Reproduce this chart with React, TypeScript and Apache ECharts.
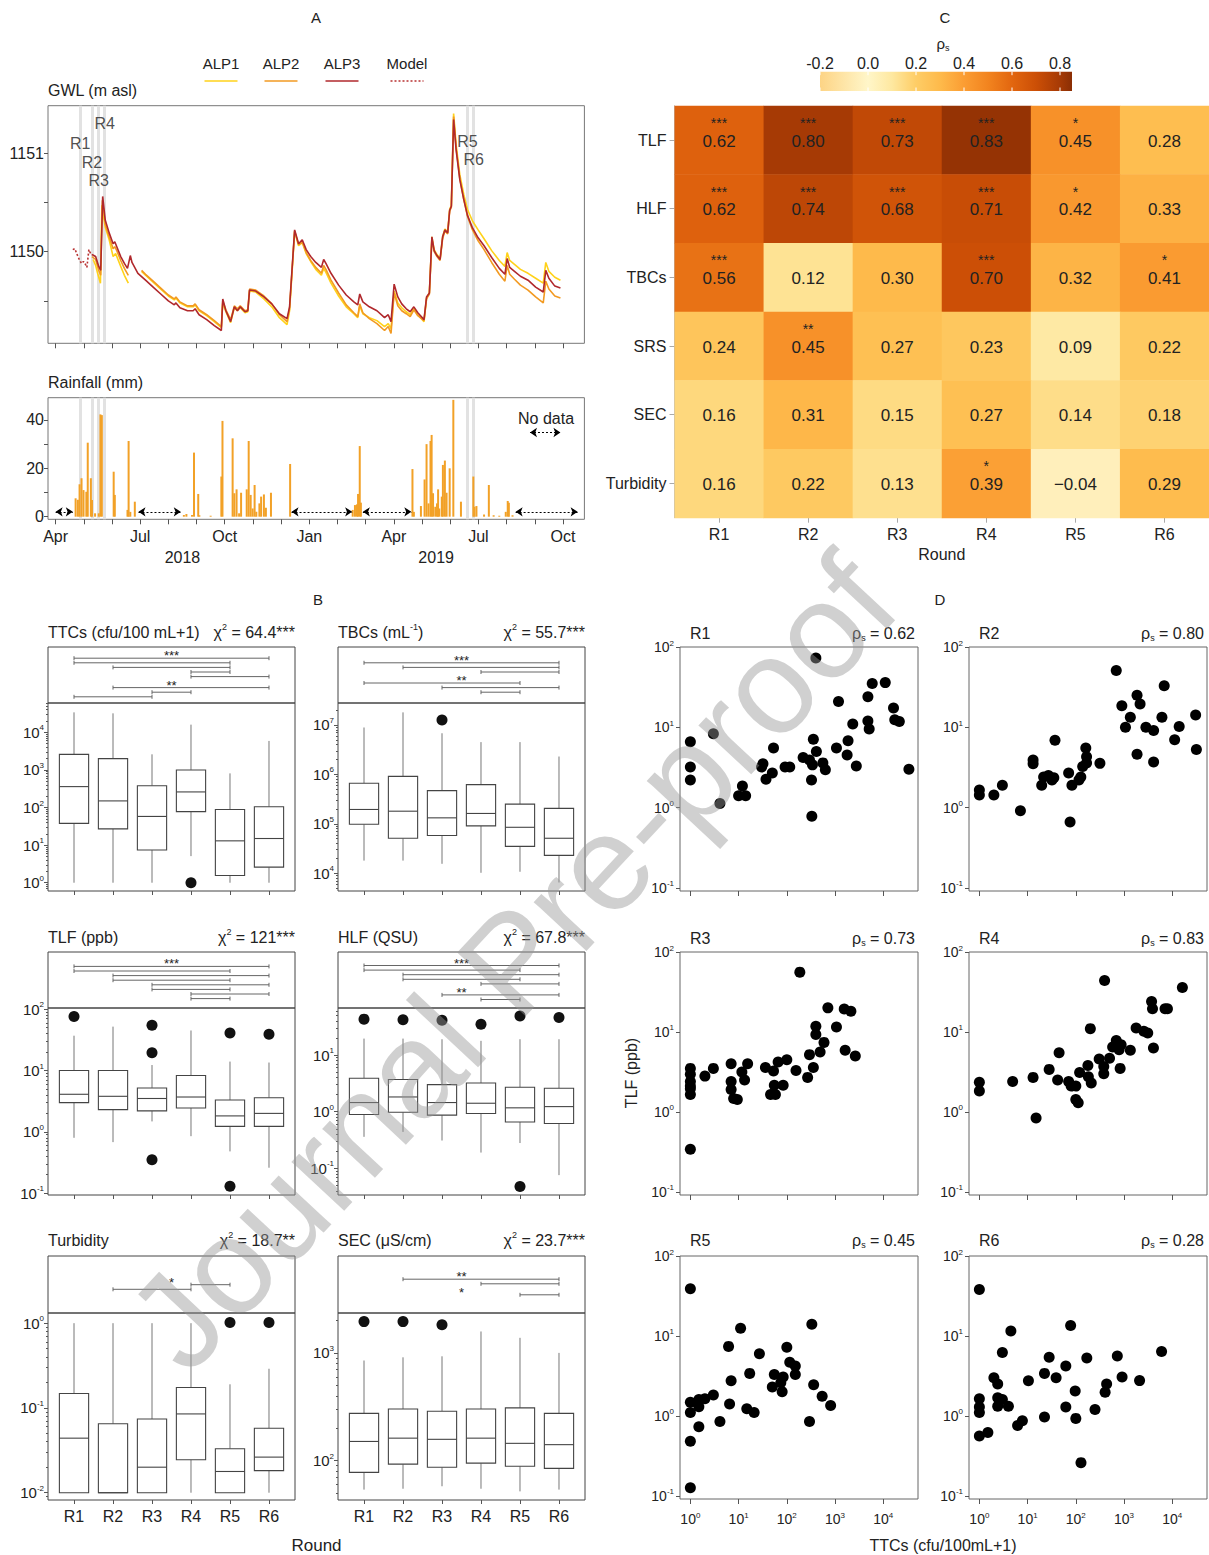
import React, { useEffect, useRef } from 'react';
import * as echarts from 'echarts';

const FONT = 'Liberation Sans';
const INK = '#222';

/* ================= Panel A : groundwater level and rainfall ================= */
// x = months since 1 April 2018
const monthTicks = [0, 1, 2, 3, 4, 5, 6, 7, 8, 9, 10, 11, 12, 13, 14, 15, 16, 17, 18];
const monthNames = ['Apr', 'May', 'Jun', 'Jul', 'Aug', 'Sep', 'Oct', 'Nov', 'Dec', 'Jan', 'Feb', 'Mar', 'Apr', 'May', 'Jun', 'Jul', 'Aug', 'Sep', 'Oct'];
const monthLabelTicks = [0, 3, 6, 9, 12, 15, 18];
const yearLabels: [number, string][] = [[4.5, '2018'], [13.5, '2019']];
const roundNames = ['R1', 'R2', 'R3', 'R4', 'R5', 'R6'];
const roundMonths = [0.87, 1.29, 1.53, 1.74, 14.61, 14.83];
const roundLabelLevels = [1151.1, 1150.9, 1150.72, 1151.3, 1151.12, 1150.93];
const gwlTicks = [1149.5, 1150, 1150.5, 1151];
const gwlLabels = [1150, 1151];
const rainTicks = [0, 10, 20, 30, 40];
const rainLabels = [0, 20, 40];

const alp3: (number | string)[][] = [
  [1.29, 1149.97], [1.42, 1149.95], [1.53, 1149.85], [1.6, 1149.81], [1.67, 1150.56], [1.76, 1150.32], [1.9, 1150.19],
  [2.04, 1150.08], [2.1, 1150.1], [2.17, 1150.05], [2.31, 1149.95], [2.44, 1149.88], [2.55, 1149.83], [2.65, 1149.96],
  [2.71, 1149.89], [2.92, 1149.78], [3.19, 1149.71], [3.46, 1149.64], [3.73, 1149.57], [4.0, 1149.5], [4.21, 1149.46],
  [4.27, 1149.48], [4.41, 1149.43], [4.68, 1149.4], [4.88, 1149.4], [4.95, 1149.42], [5.09, 1149.36], [5.36, 1149.31],
  [5.63, 1149.25], [5.88, 1149.2], [5.93, 1149.52], [6.04, 1149.4], [6.21, 1149.29], [6.34, 1149.44], [6.45, 1149.4],
  [6.55, 1149.44], [6.72, 1149.39], [6.82, 1149.4], [6.88, 1149.61], [7.1, 1149.6], [7.39, 1149.54], [7.67, 1149.47],
  [7.94, 1149.37], [8.21, 1149.32], [8.3, 1149.44], [8.48, 1150.22], [8.62, 1150.08], [8.75, 1150.12], [8.89, 1150.02],
  [9.05, 1149.95], [9.23, 1149.89], [9.43, 1149.84], [9.51, 1149.92], [9.59, 1149.88], [9.77, 1149.78], [10.04, 1149.66],
  [10.31, 1149.56], [10.58, 1149.49], [10.72, 1149.46], [10.79, 1149.57], [10.9, 1149.49], [11.13, 1149.44], [11.4, 1149.4],
  [11.67, 1149.33], [11.8, 1149.36], [11.9, 1149.29], [12.01, 1149.67], [12.14, 1149.54], [12.28, 1149.47], [12.44, 1149.42],
  [12.58, 1149.39], [12.71, 1149.44], [12.85, 1149.38], [13.07, 1149.31], [13.16, 1149.54], [13.26, 1149.58], [13.35, 1150.15],
  [13.43, 1150.01], [13.53, 1149.96], [13.64, 1149.92], [13.73, 1150.15], [13.81, 1150.22], [13.91, 1150.19], [13.98, 1150.42],
  [14.04, 1150.46], [14.12, 1151.34], [14.21, 1151.03], [14.34, 1150.73], [14.48, 1150.53], [14.61, 1150.37], [14.79, 1150.24],
  [14.99, 1150.14], [15.2, 1150.06], [15.47, 1149.94], [15.74, 1149.83], [15.94, 1149.77], [16.02, 1149.93], [16.11, 1149.84],
  [16.28, 1149.8], [16.49, 1149.75], [16.76, 1149.71], [17.03, 1149.64], [17.3, 1149.59], [17.39, 1149.81], [17.5, 1149.73],
  [17.71, 1149.65], [17.91, 1149.63],
];
const alp2: (number | string)[][] = [
  [1.29, 1149.95], [1.42, 1149.92], [1.53, 1149.81], [1.6, 1149.76], [1.66, 1150.52], [1.76, 1150.28], [1.9, 1150.15],
  [2.04, 1150.03], [2.1, 1150.05], [2.17, 1150.01], [2.31, 1149.91], [2.44, 1149.83], [2.58, 1149.76], [2.8, '-'],
  [3.05, 1149.81], [3.19, 1149.77], [3.46, 1149.7], [3.73, 1149.63], [4.0, 1149.56], [4.21, 1149.52], [4.27, 1149.54],
  [4.41, 1149.49], [4.68, 1149.45], [4.88, 1149.45], [4.95, 1149.47], [5.09, 1149.41], [5.36, 1149.36], [5.63, 1149.3],
  [5.88, 1149.24], [5.93, 1149.5], [6.04, 1149.41], [6.21, 1149.31], [6.34, 1149.45], [6.45, 1149.42], [6.55, 1149.45],
  [6.72, 1149.4], [6.82, 1149.41], [6.88, 1149.62], [7.1, 1149.61], [7.39, 1149.55], [7.67, 1149.47], [7.94, 1149.36],
  [8.21, 1149.29], [8.3, 1149.42], [8.48, 1150.21], [8.62, 1150.07], [8.75, 1150.1], [8.89, 1149.99], [9.05, 1149.91],
  [9.23, 1149.84], [9.43, 1149.78], [9.51, 1149.86], [9.59, 1149.82], [9.77, 1149.71], [10.04, 1149.58], [10.31, 1149.46],
  [10.58, 1149.38], [10.72, 1149.34], [10.79, 1149.47], [10.9, 1149.38], [11.13, 1149.32], [11.4, 1149.27], [11.67, 1149.2],
  [11.8, 1149.24], [11.9, 1149.17], [12.01, 1149.58], [12.14, 1149.45], [12.28, 1149.4], [12.44, 1149.37], [12.58, 1149.34],
  [12.71, 1149.41], [12.85, 1149.35], [13.07, 1149.3], [13.16, 1149.52], [13.26, 1149.57], [13.35, 1150.13], [13.43, 1150.0],
  [13.53, 1149.95], [13.64, 1149.91], [13.73, 1150.13], [13.81, 1150.21], [13.91, 1150.18], [13.98, 1150.41], [14.04, 1150.45],
  [14.12, 1151.37], [14.21, 1151.05], [14.34, 1150.74], [14.48, 1150.53], [14.61, 1150.36], [14.79, 1150.22], [14.99, 1150.11],
  [15.2, 1150.02], [15.47, 1149.89], [15.74, 1149.77], [15.94, 1149.7], [16.02, 1149.86], [16.11, 1149.77], [16.28, 1149.72],
  [16.49, 1149.66], [16.76, 1149.61], [17.03, 1149.54], [17.3, 1149.48], [17.39, 1149.7], [17.5, 1149.62], [17.71, 1149.55],
  [17.91, 1149.53],
];
const alp1: (number | string)[][] = [
  [1.33, 1149.92], [1.42, 1149.86], [1.49, 1149.78], [1.59, 1149.68], [1.64, 1150.47], [1.76, 1150.25], [1.9, 1150.12],
  [2.04, 1149.95], [2.13, 1149.98], [2.31, 1149.85], [2.44, 1149.76], [2.58, 1149.68], [2.8, '-'], [3.05, 1149.8],
  [3.19, 1149.76], [3.46, 1149.69], [3.73, 1149.62], [4.0, 1149.55], [4.21, 1149.51], [4.27, 1149.53], [4.41, 1149.48],
  [4.68, 1149.44], [4.88, 1149.44], [4.95, 1149.46], [5.09, 1149.4], [5.36, 1149.35], [5.63, 1149.29], [5.88, 1149.23],
  [5.93, 1149.48], [6.04, 1149.39], [6.21, 1149.28], [6.34, 1149.43], [6.45, 1149.4], [6.55, 1149.43], [6.72, 1149.38],
  [6.82, 1149.39], [6.88, 1149.6], [7.1, 1149.59], [7.39, 1149.52], [7.67, 1149.44], [7.94, 1149.33], [8.21, 1149.26],
  [8.3, 1149.4], [8.48, 1150.2], [8.62, 1150.06], [8.75, 1150.09], [8.89, 1149.98], [9.05, 1149.9], [9.23, 1149.82],
  [9.43, 1149.76], [9.51, 1149.83], [9.59, 1149.79], [9.77, 1149.68], [10.04, 1149.55], [10.31, 1149.44], [10.58, 1149.37],
  [10.72, 1149.33], [10.79, 1149.45], [10.9, 1149.37], [11.13, 1149.33], [11.4, 1149.3], [11.67, 1149.24], [11.8, 1149.27],
  [11.9, 1149.22], [12.01, 1149.6], [12.14, 1149.48], [12.28, 1149.43], [12.44, 1149.39], [12.58, 1149.36], [12.71, 1149.42],
  [12.85, 1149.36], [13.07, 1149.29], [13.16, 1149.53], [13.26, 1149.58], [13.35, 1150.15], [13.43, 1150.02], [13.53, 1149.97],
  [13.64, 1149.93], [13.73, 1150.15], [13.81, 1150.23], [13.91, 1150.2], [13.98, 1150.43], [14.04, 1150.47], [14.12, 1151.4],
  [14.21, 1151.08], [14.34, 1150.78], [14.48, 1150.58], [14.61, 1150.43], [14.79, 1150.31], [14.99, 1150.22], [15.2, 1150.13],
  [15.47, 1150.01], [15.74, 1149.91], [15.94, 1149.85], [16.02, 1149.99], [16.11, 1149.91], [16.28, 1149.87], [16.49, 1149.82],
  [16.76, 1149.78], [17.03, 1149.73], [17.3, 1149.68], [17.39, 1149.89], [17.5, 1149.8], [17.71, 1149.74], [17.91, 1149.71],
];
const modelGwl = [
  [0.61, 1150.02], [0.68, 1150.03], [0.75, 1149.98], [0.84, 1149.92], [0.92, 1149.88], [0.99, 1149.9],
  [1.04, 1149.88], [1.11, 1149.84], [1.18, 1150.02], [1.26, 1149.97], [1.29, 1149.97],
];
const rainfall = [
  [0.71, 7.6], [0.79, 7.0], [0.85, 13.4], [0.92, 15.9], [0.99, 11.0], [1.09, 10.3], [1.14, 30.6], [1.25, 15.9], [1.29, 6.9],
  [1.4, 1.4], [1.53, 1.4], [1.59, 42.3], [1.64, 42.0], [2.06, 18.6], [2.1, 9.0], [2.55, 2.8], [2.59, 31.3], [2.65, 2.0],
  [2.81, 6.2], [4.55, 0.7], [4.64, 1.1], [4.84, 0.7], [4.91, 26.5], [5.06, 9.4], [5.1, 0.6], [5.5, 0.4], [5.88, 16.6],
  [5.92, 39.6], [6.28, 32.4], [6.34, 9.7], [6.42, 11.3], [6.51, 1.4], [6.58, 9.9], [6.78, 11.3], [6.85, 31.3], [6.92, 9.0],
  [6.99, 3.4], [7.06, 13.1], [7.12, 2.0], [7.23, 5.5], [7.29, 8.3], [7.39, 9.2], [7.46, 3.7], [7.64, 9.9], [8.32, 21.8],
  [10.54, 2.8], [10.62, 4.8], [10.69, 5.1], [10.73, 9.4], [10.79, 29.2], [10.83, 5.8], [12.66, 19.7], [12.71, 2.0],
  [12.96, 4.4], [13.09, 15.4], [13.16, 30.0], [13.23, 5.5], [13.3, 31.3], [13.34, 33.8], [13.39, 9.7], [13.47, 4.1],
  [13.53, 5.5], [13.57, 11.3], [13.61, 3.4], [13.7, 8.3], [13.74, 21.4], [13.81, 23.2], [13.87, 9.9], [13.98, 20.0],
  [14.11, 48.3], [14.38, 6.2], [14.82, 16.6], [14.86, 4.1], [14.93, 4.4], [15.2, 0.9], [15.37, 13.1], [15.54, 0.6],
  [15.74, 0.4], [15.97, 2.0], [16.04, 6.5], [16.08, 5.8], [16.21, 0.6],
];
const noDataSpans = [[0, 0.61], [2.94, 4.44], [8.37, 10.52], [10.9, 12.62], [16.32, 18.52]];
const noDataKey = [16.83, 17.91];

/* ================= Panel C : correlation heat map ================= */
const hmRows = ['TLF', 'HLF', 'TBCs', 'SRS', 'SEC', 'Turbidity'];
const hmRho = [
  [0.62, 0.8, 0.73, 0.83, 0.45, 0.28],
  [0.62, 0.74, 0.68, 0.71, 0.42, 0.33],
  [0.56, 0.12, 0.3, 0.7, 0.32, 0.41],
  [0.24, 0.45, 0.27, 0.23, 0.09, 0.22],
  [0.16, 0.31, 0.15, 0.27, 0.14, 0.18],
  [0.16, 0.22, 0.13, 0.39, -0.04, 0.29],
];
const hmSig = [
  ['***', '***', '***', '***', '*', ''],
  ['***', '***', '***', '***', '*', ''],
  ['***', '', '', '***', '', '*'],
  ['', '**', '', '', '', ''],
  ['', '', '', '', '', ''],
  ['', '', '', '*', '', ''],
];
const cbMin = -0.2;
const cbMax = 0.85;
const cbTicks = [-0.2, 0, 0.2, 0.4, 0.6, 0.8];
const cbStops: [number, string][] = [
  [-0.2, '#FDD485'], [0.0, '#FFF6C9'], [0.1, '#FEE8A0'], [0.2, '#FECD66'], [0.3, '#FEBA4B'], [0.4, '#FB9D33'],
  [0.5, '#F2841F'], [0.6, '#E2660F'], [0.7, '#CC4F06'], [0.8, '#A63A05'], [0.85, '#8A2E04'],
];

/* ================= Panel B : box plots by round ================= */
// each: [min, Q1, median, Q3, max]
const ttcBox = [[1, 38, 360, 2600, 34000], [1, 27, 150, 2000, 32000], [1, 7.4, 58, 380, 2600], [5.1, 78, 260, 1000, 16000], [1, 1.55, 13, 89, 810], [1, 2.6, 15, 105, 5900]];
const ttcOut = [[4, 1]];
const tbcBox = [[18000, 98000, 195000, 660000, 8900000], [18000, 51000, 180000, 910000, 18000000], [15500, 58000, 132000, 470000, 6800000], [10200, 91000, 162000, 620000, 4500000], [10700, 35000, 85000, 250000, 4500000], [6500, 23000, 51000, 205000, 2300000]];
const tbcOut = [[3, 12600000]];
const tlfBox = [[0.8, 3.0, 4.1, 10, 37], [0.68, 2.3, 3.8, 10, 52], [1.48, 2.2, 3.5, 5.2, 12.3], [0.85, 2.45, 3.7, 8.3, 45], [0.48, 1.23, 1.82, 3.3, 14], [0.26, 1.23, 2.0, 3.6, 13.5]];
const tlfOut = [[1, 76], [3, 19.5], [3, 55], [3, 0.35], [5, 41], [5, 0.13], [6, 39]];
const hlfBox = [[0.36, 0.89, 1.45, 3.9, 19.5], [0.44, 0.98, 1.82, 3.7, 19.5], [0.31, 0.87, 1.45, 3.0, 19], [0.19, 0.93, 1.41, 3.2, 17.8], [0.28, 0.66, 1.17, 2.7, 19], [0.076, 0.62, 1.23, 2.6, 19]];
const hlfOut = [[1, 43], [2, 42], [3, 41], [4, 35], [5, 49], [5, 0.048], [6, 46]];
const turbBox = [[0.01, 0.01, 0.044, 0.148, 1.0], [0.01, 0.01, 0.01, 0.065, 1.0], [0.01, 0.01, 0.02, 0.074, 1.0], [0.01, 0.0245, 0.085, 0.174, 1.0], [0.01, 0.01, 0.0178, 0.033, 0.19], [0.01, 0.0182, 0.0263, 0.0575, 0.29]];
const turbOut = [[5, 1.02], [6, 1.02]];
const secBox = [[54, 78, 151, 275, 850], [55, 93, 162, 302, 910], [58, 87, 158, 288, 930], [55, 95, 162, 302, 1580], [52, 89, 145, 309, 1380], [54, 85, 141, 275, 1000]];
const secOut = [[1, 1950], [2, 1950], [3, 1820]];

const ttcSig = [{ stars: '***', pairs: [[1, 6], [1, 5], [2, 5], [4, 5], [4, 6]] }, { stars: '**', pairs: [[2, 6], [3, 4], [1, 3]] }];
const tbcSig = [{ stars: '***', pairs: [[1, 6], [2, 6], [4, 6]] }, { stars: '**', pairs: [[1, 5], [3, 6], [4, 5]] }];
const tlfSig = [{ stars: '***', pairs: [[1, 6], [1, 5], [2, 6], [2, 5], [3, 6], [3, 5], [4, 6], [4, 5]] }];
const hlfSig = [{ stars: '***', pairs: [[1, 6], [1, 5], [2, 6], [2, 5], [4, 6]] }, { stars: '**', pairs: [[3, 6], [4, 5]] }];
const turbSig = [{ stars: '*', pairs: [[4, 5], [2, 4]] }];
const secSig = [{ stars: '**', pairs: [[2, 6], [4, 6]] }, { stars: '*', pairs: [[5, 6]] }];

const boxPanels = [
  { title: '{t|TTCs (cfu/100 mL+1)}', chi: '64.4***', box: ttcBox, out: ttcOut, sig: ttcSig, range: [-0.22, 4.78] },
  { title: '{t|TBCs (mL}{u|-1}{t|)}', chi: '55.7***', box: tbcBox, out: tbcOut, sig: tbcSig, range: [3.64, 7.445] },
  { title: '{t|TLF (ppb)}', chi: '121***', box: tlfBox, out: tlfOut, sig: tlfSig, range: [-1.03, 2.02] },
  { title: '{t|HLF (QSU)}', chi: '67.8***', box: hlfBox, out: hlfOut, sig: hlfSig, range: [-1.47, 1.83] },
  { title: '{t|Turbidity}', chi: '18.7**', box: turbBox, out: turbOut, sig: turbSig, range: [-2.086, 0.12] },
  { title: '{t|SEC (μS/cm)}', chi: '23.7***', box: secBox, out: secOut, sig: secSig, range: [1.636, 3.37] },
];

/* ================= Panel D : TLF vs TTCs per round ================= */
const scR1 = [[1, 6.6], [1, 3.2], [1, 2.2], [3.0, 8.3], [4.1, 1.12], [10, 1.4], [12, 1.86], [14, 1.4], [30, 3.2], [32, 3.5], [37, 2.25], [50, 2.7], [53, 5.5], [92, 3.2], [115, 3.2], [218, 4.2], [295, 3.9], [325, 2.2], [340, 3.4], [355, 7.1], [330, 0.78], [400, 73], [410, 5.0], [560, 3.6], [630, 2.95], [1070, 5.5], [1180, 21], [1780, 4.5], [1860, 6.8], [2330, 11], [2760, 3.3], [4800, 24], [4800, 12], [5100, 9.5], [5900, 35], [11000, 36], [16300, 17.4], [17300, 12.4], [21500, 11.8], [34000, 3.0]];
const scR2 = [[1, 1.65], [1, 1.43], [2.0, 1.43], [3.0, 1.9], [7.1, 0.91], [13, 3.9], [13, 3.5], [19.6, 1.9], [21.5, 2.4], [27, 2.5], [32, 2.2], [35, 2.35], [37, 6.9], [71, 2.7], [76, 0.66], [83, 1.9], [116, 2.2], [127, 2.4], [139, 3.25], [161, 5.5], [167, 4.3], [167, 3.6], [316, 3.55], [690, 51], [900, 18.5], [1070, 10], [1350, 13.3], [1860, 25], [1860, 4.6], [2150, 19.5], [2840, 10], [4100, 9.1], [4100, 3.7], [6100, 13.3], [6800, 33], [11200, 7.0], [13900, 10.2], [30500, 14.2], [31600, 5.3]];
const scR3 = [[1, 3.5], [1, 2.95], [1, 2.4], [1, 2.1], [1, 1.95], [1, 1.65], [1, 0.34], [2.0, 2.8], [3.0, 3.5], [7.0, 4.0], [7.0, 2.4], [7.0, 1.9], [7.9, 1.47], [9.4, 1.43], [11.7, 3.15], [13.3, 2.5], [15.4, 4.0], [36, 3.6], [46, 1.65], [53, 3.25], [55, 2.15], [58, 1.65], [66, 4.2], [84, 2.15], [100, 4.5], [155, 3.3], [186, 56], [270, 2.7], [295, 5.2], [355, 3.6], [400, 11.8], [400, 9.3], [490, 5.6], [590, 7.4], [710, 20], [1070, 11.5], [1550, 19.4], [1620, 5.9], [2130, 18.2], [2630, 5.0]];
const scR4 = [[1, 2.35], [1, 1.82], [4.9, 2.4], [13, 2.7], [15, 0.84], [28, 3.4], [42, 2.5], [45, 5.5], [71, 2.4], [80, 2.1], [100, 2.1], [100, 1.43], [112, 1.3], [120, 3.1], [178, 3.8], [182, 2.75], [200, 11], [209, 2.3], [305, 4.6], [380, 3.7], [380, 3.0], [395, 44], [500, 4.7], [580, 6.5], [690, 7.8], [790, 6.0], [870, 6.9], [830, 3.5], [1350, 5.9], [1780, 11.2], [2570, 10.2], [3100, 9.7], [3720, 24], [3890, 19.5], [4070, 6.3], [7080, 19.5], [7940, 19.5], [16200, 36]];
const scR5 = [[1, 39], [1, 1.48], [1, 1.1], [1, 0.48], [1, 0.126], [1.5, 1.6], [1.5, 1.3], [1.5, 0.73], [2.0, 1.64], [3.0, 1.82], [4.1, 0.85], [6.2, 7.4], [6.5, 1.41], [7.0, 2.75], [11, 12.5], [14.8, 1.23], [17, 3.4], [21, 1.1], [27, 6.0], [50, 2.3], [55, 3.3], [75, 2.6], [80, 2.0], [84, 3.06], [100, 7.2], [115, 4.7], [150, 4.2], [150, 3.3], [295, 0.85], [330, 14], [360, 2.45], [540, 1.76], [810, 1.35]];
const scR6 = [[1, 38], [1, 1.64], [1, 1.29], [1, 1.1], [1, 0.56], [1.5, 0.62], [2.0, 3.0], [2.4, 2.5], [2.4, 1.68], [2.4, 1.32], [3.0, 1.6], [3.0, 6.2], [4.0, 1.32], [4.5, 11.5], [6.2, 0.76], [7.8, 0.87], [10.4, 2.75], [22.4, 0.97], [22.4, 3.4], [28, 5.4], [39, 3.0], [62, 4.2], [62, 1.29], [78, 13.5], [97, 2.05], [100, 0.93], [128, 0.26], [169, 5.3], [250, 1.2], [405, 1.97], [435, 2.5], [725, 5.6], [910, 3.06], [2100, 2.76], [6000, 6.4]];
const scPanels = [
  { name: 'R1', rho: '0.62', data: scR1 }, { name: 'R2', rho: '0.80', data: scR2 },
  { name: 'R3', rho: '0.73', data: scR3 }, { name: 'R4', rho: '0.83', data: scR4 },
  { name: 'R5', rho: '0.45', data: scR5 }, { name: 'R6', rho: '0.28', data: scR6 },
];
const scXTicks = [0, 1, 2, 3, 4];
const scYTicks = [-1, 0, 1, 2];

/* ================= helpers ================= */
const lg = (v: number) => Math.log10(v);
const hexToRgb = (h: string) => { const n = parseInt(h.slice(1), 16); return [(n >> 16) & 255, (n >> 8) & 255, n & 255]; };
function rhoColor(v: number) {
  if (v <= cbStops[0][0]) return cbStops[0][1];
  for (let i = 1; i < cbStops.length; i++) {
    if (v <= cbStops[i][0]) {
      const t = (v - cbStops[i - 1][0]) / (cbStops[i][0] - cbStops[i - 1][0]);
      const a = hexToRgb(cbStops[i - 1][1]);
      const b = hexToRgb(cbStops[i][1]);
      return 'rgb(' + a.map((x, k) => Math.round(x + (b[k] - x) * t)).join(',') + ')';
    }
  }
  return cbStops[cbStops.length - 1][1];
}
const fmtRho = (v: number) => (v < 0 ? '\u2212' + Math.abs(v).toFixed(2) : v.toFixed(2));
const supFmt = (v: number) => `{b|10}{e|${Math.round(v)}}`;
const supRich = (size: number) => ({
  b: { fontSize: size, color: INK, fontFamily: FONT, lineHeight: size + 2 },
  e: { fontSize: 8, color: INK, fontFamily: FONT, lineHeight: 6, verticalAlign: 'top' },
});

function gText(x: number, y: number, text: string, o: any = {}) {
  const size = o.size ?? 16;
  const align = o.align ?? 'left';
  const style: any = {
    text, fill: o.fill ?? INK, fontSize: size, fontFamily: FONT,
    align, textAlign: align, verticalAlign: 'middle', textVerticalAlign: 'middle',
  };
  if (o.rich) style.rich = o.rich;
  return { type: 'text', x, y, z: o.z ?? 50, rotation: o.rotation ?? 0, silent: true, style };
}
const titleRich = (size: number) => ({
  t: { fontSize: size, fill: INK, fontFamily: FONT, lineHeight: size + 3 },
  u: { fontSize: 9, fill: INK, fontFamily: FONT, lineHeight: 7, verticalAlign: 'top' },
  d: { fontSize: 9, fill: INK, fontFamily: FONT, lineHeight: 7, verticalAlign: 'bottom' },
});

function layoutBrackets(sig: any[], H: number) {
  const rows: any[] = [];
  let y = 0;
  sig.forEach((g, gi) => {
    if (gi > 0) y += 1.4;
    rows.push({ stars: g.stars, x: 3.5, y });
    y += 5;
    g.pairs.forEach((p: number[]) => { rows.push({ a: p[0], b: p[1], y }); y += 4.6; });
  });
  const last = y - 4.6;
  const shift = H / 2 - last / 2;
  rows.forEach((r) => { r.y += shift; });
  return rows;
}

function buildOption() {
  const grids: any[] = [];
  const xAxes: any[] = [];
  const yAxes: any[] = [];
  const series: any[] = [];
  const graphics: any[] = [];
  const addGrid = (g: any) => { grids.push(g); return grids.length - 1; };
  const addX = (a: any) => { xAxes.push(a); return xAxes.length - 1; };
  const addY = (a: any) => { yAxes.push(a); return yAxes.length - 1; };
  const tickStyle = { color: '#555', width: 1 };
  const noLine = { show: false, onZero: false };

  /* ---------- Panel A ---------- */
  const aLeft = 48, aWidth = 536.4, aMin = -0.27, aMax = 18.76;
  const gG = addGrid({ left: aLeft, top: 105.7, width: aWidth, height: 237.6, show: true, borderColor: '#777', borderWidth: 1 });
  const xG = addX({
    type: 'value', gridIndex: gG, min: aMin, max: aMax, axisLine: noLine, splitLine: { show: false },
    axisTick: { show: true, customValues: monthTicks, length: 5, lineStyle: tickStyle }, axisLabel: { show: false },
  });
  const yG = addY({
    type: 'value', gridIndex: gG, min: 1149.07, max: 1151.48, axisLine: noLine, splitLine: { show: false },
    axisTick: { show: true, customValues: gwlTicks, length: 4, lineStyle: tickStyle },
    axisLabel: { customValues: gwlLabels, formatter: (v: number) => String(v), fontSize: 16, color: INK, margin: 4, fontFamily: FONT },
  });
  const gR = addGrid({ left: aLeft, top: 397.7, width: aWidth, height: 121.6, show: true, borderColor: '#777', borderWidth: 1 });
  const xR = addX({
    type: 'value', gridIndex: gR, min: aMin, max: aMax, axisLine: noLine, splitLine: { show: false },
    axisTick: { show: true, customValues: monthTicks, length: 5, lineStyle: tickStyle },
    axisLabel: {
      customValues: [...monthLabelTicks, ...yearLabels.map((y) => y[0])].sort((a, b) => a - b),
      formatter: (v: number) => {
        const yl = yearLabels.find((y) => Math.abs(y[0] - v) < 1e-6);
        return yl ? '\n' + yl[1] : monthNames[Math.round(v)];
      },
      fontSize: 16, color: INK, margin: 7, lineHeight: 21, fontFamily: FONT,
    },
  });
  const yR = addY({
    type: 'value', gridIndex: gR, min: -1.08, max: 49.2, axisLine: noLine, splitLine: { show: false },
    axisTick: { show: true, customValues: rainTicks, length: 4, lineStyle: tickStyle },
    axisLabel: { customValues: rainLabels, formatter: (v: number) => String(v), fontSize: 16, color: INK, margin: 4, fontFamily: FONT },
  });

  const roundMark = {
    silent: true, symbol: 'none', animation: false, z: 1, label: { show: false },
    lineStyle: { color: '#E2E2E2', width: 3, type: 'solid' },
    data: roundMonths.map((m) => ({ xAxis: m })),
  };
  series.push({ type: 'line', xAxisIndex: xG, yAxisIndex: yG, data: [], z: 1, silent: true, markLine: roundMark });
  series.push({ type: 'line', xAxisIndex: xR, yAxisIndex: yR, data: [], z: 1, silent: true, markLine: roundMark });

  const lineSer = (data: any[], color: string, dash?: any) => ({
    type: 'line', xAxisIndex: xG, yAxisIndex: yG, data, showSymbol: false, symbol: 'none', z: 3, silent: true,
    connectNulls: false, lineStyle: { color, width: 1.6, type: dash ?? 'solid' },
  });
  series.push(lineSer(alp1, '#FFD21A'));
  series.push(lineSer(alp2, '#F29A22'));
  series.push(lineSer(alp3, '#B0282C'));
  series.push(lineSer(modelGwl, '#B83232', [2, 2]));
  series.push({
    type: 'scatter', xAxisIndex: xG, yAxisIndex: yG, symbolSize: 0, z: 10, silent: true,
    data: roundMonths.map((m, i) => ({ value: [m, roundLabelLevels[i]], name: roundNames[i] })),
    label: { show: true, position: 'inside', formatter: (p: any) => p.name, fontSize: 16, color: INK, fontFamily: FONT },
  });
  series.push({
    type: 'bar', xAxisIndex: xR, yAxisIndex: yR, data: rainfall, barWidth: 2, z: 3, silent: true,
    itemStyle: { color: '#F2A127' },
  });
  series.push({
    type: 'lines', coordinateSystem: 'cartesian2d', xAxisIndex: xR, yAxisIndex: yR, z: 4, silent: true,
    symbol: ['arrow', 'arrow'], symbolSize: 7,
    lineStyle: { color: '#000', width: 1, type: [2, 2], opacity: 1 },
    data: [
      ...noDataSpans.map((s) => ({ coords: [[s[0], 2], [s[1], 2]] })),
      { coords: [[noDataKey[0], 34.8], [noDataKey[1], 34.8]] },
    ],
  });

  graphics.push(gText(316, 17, 'A', { size: 15, align: 'center' }));
  graphics.push(gText(48, 90, 'GWL (m asl)', { size: 16 }));
  graphics.push(gText(48, 382, 'Rainfall (mm)', { size: 16 }));
  graphics.push(gText(546, 418, 'No data', { size: 16, align: 'center' }));
  const legendItems = [
    { name: 'ALP1', x: 221, color: '#FFD21A', dash: null },
    { name: 'ALP2', x: 281, color: '#F29A22', dash: null },
    { name: 'ALP3', x: 342, color: '#B0282C', dash: null },
    { name: 'Model', x: 407, color: '#B83232', dash: [2, 2] },
  ];
  legendItems.forEach((it) => {
    graphics.push(gText(it.x, 63, it.name, { size: 15, align: 'center' }));
    graphics.push({
      type: 'line', silent: true, z: 50, shape: { x1: it.x - 16.5, y1: 81, x2: it.x + 16.5, y2: 81 },
      style: { stroke: it.color, lineWidth: 1.6, lineDash: it.dash ?? undefined },
    });
  });

  /* ---------- Panel C ---------- */
  const gH = addGrid({ left: 674.5, top: 105.7, width: 535.2, height: 412, show: false });
  const xH = addX({
    type: 'category', gridIndex: gH, data: roundNames,
    axisLine: { show: true, onZero: false, lineStyle: { color: '#BBB' } },
    axisTick: { show: true, alignWithLabel: true, length: 5, lineStyle: { color: '#AAA' } },
    axisLabel: { fontSize: 16, color: INK, margin: 9, fontFamily: FONT },
    name: 'Round', nameLocation: 'middle', nameGap: 29, nameTextStyle: { fontSize: 16, color: INK, fontFamily: FONT },
  });
  const yH = addY({
    type: 'category', gridIndex: gH, data: hmRows, inverse: true,
    axisLine: { show: true, onZero: false, lineStyle: { color: '#BBB' } },
    axisTick: { show: true, alignWithLabel: true, length: 5, lineStyle: { color: '#AAA' } },
    axisLabel: { fontSize: 16, color: INK, margin: 8, fontFamily: FONT },
  });
  const hmData: any[] = [];
  const hmStars: string[] = [];
  hmRho.forEach((row, r) => row.forEach((v, c) => {
    hmData.push([c, r, v]);
    hmStars.push(hmSig[r][c]);
  }));
  series.push({
    type: 'custom', xAxisIndex: xH, yAxisIndex: yH, data: hmData, silent: true, z: 2,
    encode: { x: 0, y: 1 },
    renderItem: (params: any, api: any) => {
      const v = api.value(2);
      const c = api.coord([api.value(0), api.value(1)]);
      const s = api.size([1, 1]);
      const stars = hmStars[params.dataIndex];
      const children: any[] = [
        { type: 'rect', shape: { x: c[0] - s[0] / 2, y: c[1] - s[1] / 2, width: s[0] + 0.5, height: s[1] + 0.5 }, style: { fill: rhoColor(v) } },
        { type: 'text', x: c[0], y: c[1] + 1, style: { text: fmtRho(v), fill: INK, fontSize: 17, fontFamily: FONT, align: 'center', textAlign: 'center', verticalAlign: 'middle', textVerticalAlign: 'middle' } },
      ];
      if (stars) {
        children.push({ type: 'text', x: c[0], y: c[1] - 17, style: { text: stars, fill: INK, fontSize: 14, fontFamily: FONT, align: 'center', textAlign: 'center', verticalAlign: 'middle', textVerticalAlign: 'middle' } });
      }
      return { type: 'group', children };
    },
  });
  graphics.push(gText(945, 17, 'C', { size: 15, align: 'center' }));
  graphics.push(gText(943, 43, '{t|ρ}{d|s}', { align: 'center', rich: titleRich(15) }));
  const cbX = 820, cbW = 252, cbY = 71.7, cbH = 19.3;
  graphics.push({
    type: 'rect', silent: true, z: 40, shape: { x: cbX, y: cbY, width: cbW, height: cbH },
    style: {
      fill: new echarts.graphic.LinearGradient(0, 0, 1, 0,
        cbStops.map(([v, c]) => ({ offset: (v - cbMin) / (cbMax - cbMin), color: c }))),
    },
  });
  cbTicks.forEach((t) => {
    const px = cbX + ((t - cbMin) / (cbMax - cbMin)) * cbW;
    graphics.push(gText(px, 63.3, t.toFixed(1), { size: 16, align: 'center' }));
    graphics.push({ type: 'line', silent: true, z: 41, shape: { x1: px, y1: cbY, x2: px, y2: cbY + 3.5 }, style: { stroke: '#fff', lineWidth: 1 } });
    graphics.push({ type: 'line', silent: true, z: 41, shape: { x1: px, y1: cbY + cbH - 3.5, x2: px, y2: cbY + cbH }, style: { stroke: '#fff', lineWidth: 1 } });
  });

  /* ---------- Panel B ---------- */
  const bCols = [48, 338];
  const bW = 247;
  const bRows = [
    { top: 647, sep: 703, bottom: 891, titleY: 632 },
    { top: 952, sep: 1008, bottom: 1195, titleY: 937 },
    { top: 1256, sep: 1313, bottom: 1500, titleY: 1240 },
  ];
  const bxMin = 0.333, bxMax = 6.667;
  const catIdx = [1, 2, 3, 4, 5, 6];
  boxPanels.forEach((p, i) => {
    const col = i % 2, row = Math.floor(i / 2);
    const L = bCols[col], R = bRows[row];
    const isBottom = row === 2;
    const gLow = addGrid({ left: L, top: R.sep, width: bW, height: R.bottom - R.sep, show: true, borderColor: '#444', borderWidth: 1 });
    const gUp = addGrid({ left: L, top: R.top, width: bW, height: R.sep - R.top, show: true, borderColor: '#444', borderWidth: 1 });
    const [ymin, ymax] = p.range;
    const majors: number[] = [];
    const minors: number[] = [];
    for (let k = Math.floor(ymin); k <= Math.ceil(ymax); k++) {
      if (k >= ymin && k <= ymax) majors.push(k);
      for (let j = 2; j <= 9; j++) { const v = k + Math.log10(j); if (v >= ymin && v <= ymax) minors.push(v); }
    }
    const xl = addX({
      type: 'value', gridIndex: gLow, min: bxMin, max: bxMax, axisLine: noLine, splitLine: { show: false },
      axisTick: { show: true, customValues: catIdx, length: 4, lineStyle: tickStyle },
      axisLabel: { show: isBottom, customValues: catIdx, formatter: (v: number) => roundNames[Math.round(v) - 1], fontSize: 16, color: INK, margin: 8, fontFamily: FONT },
    });
    const yl = addY({
      type: 'value', gridIndex: gLow, position: 'left', min: ymin, max: ymax, axisLine: noLine, splitLine: { show: false },
      axisTick: { show: true, customValues: majors, length: 4, lineStyle: tickStyle },
      axisLabel: { customValues: majors, formatter: supFmt, rich: supRich(15), margin: 4 },
    });
    addY({
      type: 'value', gridIndex: gLow, position: 'left', offset: 0, min: ymin, max: ymax, axisLine: noLine, splitLine: { show: false },
      axisTick: { show: true, customValues: minors, length: 2, lineStyle: tickStyle }, axisLabel: { show: false },
    });
    const xu = addX({ type: 'value', gridIndex: gUp, min: bxMin, max: bxMax, show: false, axisLine: noLine });
    const H = R.sep - R.top;
    const yu = addY({ type: 'value', gridIndex: gUp, min: 0, max: H, inverse: true, show: false, axisLine: noLine });

    series.push({
      type: 'custom', xAxisIndex: xl, yAxisIndex: yl, silent: true, z: 3,
      encode: { x: 0, y: [1, 2, 3, 4, 5] },
      data: p.box.map((b, k) => [k + 1, ...b.map(lg)]),
      renderItem: (params: any, api: any) => {
        const x = api.value(0);
        const pMin = api.coord([x, api.value(1)]);
        const pQ1 = api.coord([x, api.value(2)]);
        const pMed = api.coord([x, api.value(3)]);
        const pQ3 = api.coord([x, api.value(4)]);
        const pMax = api.coord([x, api.value(5)]);
        const hw = api.size([0.75, 0])[0] / 2;
        const ws = { stroke: '#777', lineWidth: 1 };
        return {
          type: 'group', children: [
            { type: 'line', shape: { x1: pMin[0], y1: pMin[1], x2: pQ1[0], y2: pQ1[1] }, style: ws },
            { type: 'line', shape: { x1: pQ3[0], y1: pQ3[1], x2: pMax[0], y2: pMax[1] }, style: ws },
            { type: 'rect', shape: { x: pQ3[0] - hw, y: pQ3[1], width: 2 * hw, height: pQ1[1] - pQ3[1] }, style: { fill: '#fff', stroke: '#444', lineWidth: 1.1 } },
            { type: 'line', shape: { x1: pMed[0] - hw, y1: pMed[1], x2: pMed[0] + hw, y2: pMed[1] }, style: { stroke: '#444', lineWidth: 1.1 } },
          ],
        };
      },
    });
    series.push({
      type: 'scatter', xAxisIndex: xl, yAxisIndex: yl, silent: true, z: 4, symbolSize: 11,
      itemStyle: { color: '#111', opacity: 1 }, data: p.out.map((o) => [o[0], lg(o[1])]),
    });
    const rows = layoutBrackets(p.sig, H);
    series.push({
      type: 'custom', xAxisIndex: xu, yAxisIndex: yu, silent: true, z: 3,
      encode: { x: [0, 1], y: 2 },
      data: rows.map((r) => (r.stars ? [r.x, r.x, r.y] : [r.a, r.b, r.y])),
      renderItem: (params: any, api: any) => {
        const r = rows[params.dataIndex];
        if (r.stars) {
          const c = api.coord([r.x, r.y]);
          return {
            type: 'text', x: c[0], y: c[1] + 2.5,
            style: { text: r.stars, fill: INK, fontSize: 13, fontFamily: FONT, align: 'center', textAlign: 'center', verticalAlign: 'middle', textVerticalAlign: 'middle' },
          };
        }
        const a = api.coord([r.a, r.y]);
        const b = api.coord([r.b, r.y]);
        const st = { stroke: '#666', lineWidth: 1 };
        return {
          type: 'group', children: [
            { type: 'line', shape: { x1: a[0], y1: a[1], x2: b[0], y2: b[1] }, style: st },
            { type: 'line', shape: { x1: a[0], y1: a[1] - 2, x2: a[0], y2: a[1] + 2 }, style: st },
            { type: 'line', shape: { x1: b[0], y1: b[1] - 2, x2: b[0], y2: b[1] + 2 }, style: st },
          ],
        };
      },
    });
    graphics.push(gText(L, R.titleY, p.title, { rich: titleRich(16) }));
    graphics.push(gText(L + bW, R.titleY, `{t|χ}{u|2}{t| = ${p.chi}}`, { align: 'right', rich: titleRich(16) }));
  });
  graphics.push(gText(318, 599, 'B', { size: 15, align: 'center' }));
  graphics.push(gText(316.5, 1545, 'Round', { size: 17, align: 'center' }));

  /* ---------- Panel D ---------- */
  const sCols = [680, 969];
  const sW = 238;
  const sRows = [
    { top: 647, bottom: 891, titleY: 633 },
    { top: 952, bottom: 1195, titleY: 938 },
    { top: 1256, bottom: 1499, titleY: 1240 },
  ];
  scPanels.forEach((p, i) => {
    const col = i % 2, row = Math.floor(i / 2);
    const L = sCols[col], R = sRows[row];
    const g = addGrid({ left: L, top: R.top, width: sW, height: R.bottom - R.top, show: true, borderColor: '#666', borderWidth: 1 });
    const xs = addX({
      type: 'value', gridIndex: g, min: -0.215, max: 4.72, axisLine: noLine, splitLine: { show: false },
      axisTick: { show: true, customValues: scXTicks, length: 5, lineStyle: tickStyle },
      axisLabel: { show: row === 2, customValues: scXTicks, formatter: supFmt, rich: supRich(14), margin: 12 },
    });
    const ys = addY({
      type: 'value', gridIndex: g, min: -1.04, max: 2.0, axisLine: noLine, splitLine: { show: false },
      axisTick: { show: true, customValues: scYTicks, length: 4, lineStyle: tickStyle },
      axisLabel: { customValues: scYTicks, formatter: supFmt, rich: supRich(14), margin: 6 },
    });
    series.push({
      type: 'scatter', xAxisIndex: xs, yAxisIndex: ys, silent: true, symbolSize: 11, z: 3,
      itemStyle: { color: '#000', opacity: 1 }, data: p.data.map((d) => [lg(d[0]), lg(d[1])]),
    });
    graphics.push(gText(L + 10, R.titleY, p.name, { size: 16 }));
    graphics.push(gText(L + 235, R.titleY, `{t|ρ}{d|s}{t| = ${p.rho}}`, { align: 'right', rich: titleRich(16) }));
  });
  graphics.push(gText(940, 599, 'D', { size: 15, align: 'center' }));
  graphics.push(gText(943, 1545, 'TTCs (cfu/100mL+1)', { size: 16, align: 'center' }));
  graphics.push(gText(631, 1073, 'TLF (ppb)', { size: 16, align: 'center', rotation: Math.PI / 2 }));

  /* ---------- watermark ---------- */
  graphics.push(gText(512, 962, 'Journal Pre-proof', {
    size: 136, align: 'center', fill: 'rgba(150,150,150,0.45)', rotation: (47 * Math.PI) / 180, z: 100,
  }));

  return {
    animation: false,
    backgroundColor: '#fff',
    textStyle: { fontFamily: FONT },
    grid: grids,
    xAxis: xAxes,
    yAxis: yAxes,
    series,
    graphic: { elements: graphics },
  };
}

export default function App() {
  const ref = useRef<HTMLDivElement>(null);
  useEffect(() => {
    if (!ref.current) return;
    const chart = echarts.init(ref.current, undefined, { renderer: 'svg' });
    chart.setOption(buildOption() as any);
    return () => chart.dispose();
  }, []);
  return (
    <div
      ref={ref}
      style={{ position: 'absolute', left: 0, top: 0, width: 1209, height: 1555, background: '#fff' }}
    />
  );
}
